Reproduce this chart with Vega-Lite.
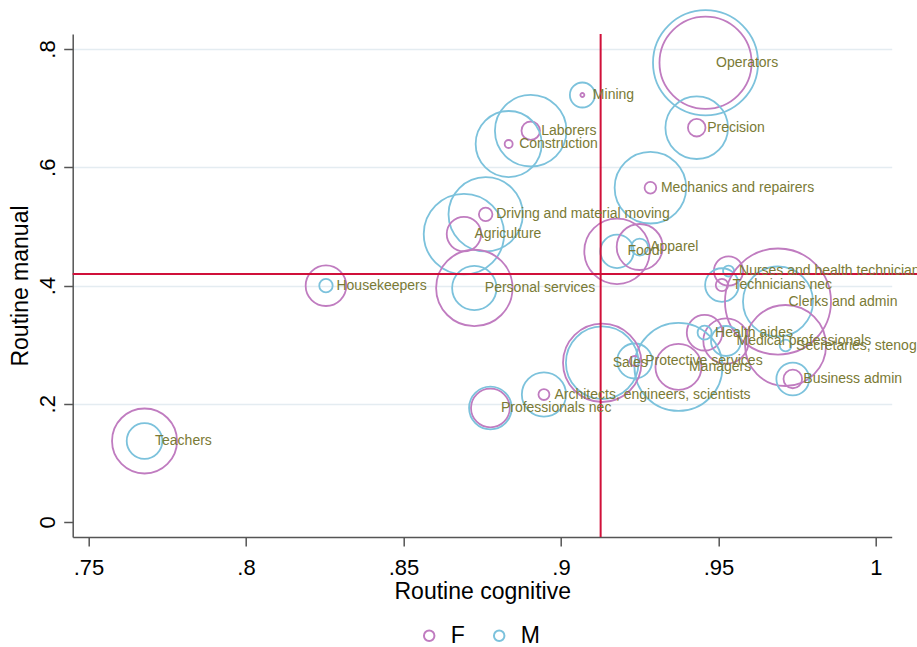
{
  "$schema": "https://vega.github.io/schema/vega-lite/v6.json",
  "width": 819,
  "height": 503,
  "autosize": {"type": "none"},
  "padding": {"left": 72.7, "top": 34, "right": 25.3, "bottom": 110},
  "background": "white",
  "config": {
    "view": {"stroke": null},
    "font": "Liberation Sans",
    "axis": {
      "domainColor": "#555555", "domainWidth": 1.5,
      "tickColor": "#555555", "tickWidth": 1.5, "tickSize": 9,
      "labelFont": "Liberation Sans", "labelFontSize": 22, "labelColor": "#000000",
      "titleFont": "Liberation Sans", "titleFontSize": 23, "titleFontWeight": "normal", "titleColor": "#000000"
    }
  },
  "datasets": {
    "occ": [
      {"occupation": "Operators", "rc": 0.9459, "rm": 0.7768, "F": 212, "M": 276},
      {"occupation": "Mining", "rc": 0.9068, "rm": 0.7222, "F": 0.4, "M": 15.6},
      {"occupation": "Laborers", "rc": 0.8904, "rm": 0.6618, "F": 8.5, "M": 128},
      {"occupation": "Construction", "rc": 0.8834, "rm": 0.6393, "F": 1.6, "M": 109},
      {"occupation": "Precision", "rc": 0.9431, "rm": 0.6669, "F": 7.7, "M": 98},
      {"occupation": "Mechanics and repairers", "rc": 0.9284, "rm": 0.5654, "F": 3.4, "M": 128},
      {"occupation": "Driving and material moving", "rc": 0.8761, "rm": 0.5204, "F": 4.6, "M": 138},
      {"occupation": "Agriculture", "rc": 0.8692, "rm": 0.4869, "F": 29.6, "M": 161.6},
      {"occupation": "Food", "rc": 0.9178, "rm": 0.4578, "F": 107, "M": 27.9},
      {"occupation": "Apparel", "rc": 0.925, "rm": 0.4651, "F": 52.9, "M": 7.2},
      {"occupation": "Housekeepers", "rc": 0.8254, "rm": 0.3997, "F": 41.2, "M": 4.5},
      {"occupation": "Teachers", "rc": 0.7678, "rm": 0.137, "F": 105.6, "M": 31.7},
      {"occupation": "Personal services", "rc": 0.8725, "rm": 0.3958, "F": 146, "M": 49.3},
      {"occupation": "Nurses and health technicians", "rc": 0.9532, "rm": 0.4245, "F": 21.3, "M": 3.0},
      {"occupation": "Technicians nec", "rc": 0.9511, "rm": 0.4008, "F": 3.8, "M": 28.2},
      {"occupation": "Clerks and admin", "rc": 0.9689, "rm": 0.3729, "F": 281, "M": 122.5},
      {"occupation": "Secretaries, stenographers, typists", "rc": 0.9713, "rm": 0.2985, "F": 164, "M": 3.4},
      {"occupation": "Medical professionals", "rc": 0.9524, "rm": 0.3061, "F": 51.5, "M": 22.5},
      {"occupation": "Health aides", "rc": 0.9456, "rm": 0.3202, "F": 31.7, "M": 4.9},
      {"occupation": "Business admin", "rc": 0.9736, "rm": 0.2419, "F": 8.6, "M": 26.9},
      {"occupation": "Managers", "rc": 0.9373, "rm": 0.2622, "F": 52.9, "M": 193.6},
      {"occupation": "Protective services", "rc": 0.9234, "rm": 0.2723, "F": 2.5, "M": 30.6},
      {"occupation": "Sales", "rc": 0.9131, "rm": 0.2693, "F": 153.7, "M": 131.8},
      {"occupation": "Architects, engineers, scientists", "rc": 0.8946, "rm": 0.2156, "F": 3.0, "M": 48.8},
      {"occupation": "Professionals nec", "rc": 0.8776, "rm": 0.1928, "F": 37.6, "M": 45.4}
    ],
    "vline": [{"x": 0.9126, "y1": -0.0254, "y2": 0.8254}],
    "hline": [{"y": 0.4195, "x1": 0.745, "x2": 1.04}]
  },
  "layer": [
    {
      "data": {"name": "occ"},
      "transform": [{"fold": ["F", "M"], "as": ["sex", "emp"]}],
      "mark": {"type": "point", "shape": "circle", "filled": false, "strokeWidth": 1.8, "opacity": 1},
      "encoding": {
        "x": {
          "field": "rc", "type": "quantitative", "title": "Routine cognitive",
          "scale": {"domain": [0.745, 1.005], "nice": false, "zero": false},
          "axis": {"values": [0.75, 0.8, 0.85, 0.9, 0.95, 1], "format": ".2~f", "labelExpr": "replace(datum.label, '0.', '.')", "grid": false, "labelPadding": 11, "titlePadding": 2, "labelFlush": false}
        },
        "y": {
          "field": "rm", "type": "quantitative", "title": "Routine manual",
          "scale": {"domain": [-0.0254, 0.8254], "nice": false, "zero": false},
          "axis": {"values": [0, 0.2, 0.4, 0.6, 0.8], "format": ".1~f", "labelExpr": "replace(datum.label, '0.', '.')",
            "grid": true, "gridColor": "#e4ecf1", "gridWidth": 1.5,
            "gridOpacity": {"condition": {"test": "datum.value === 0", "value": 0}, "value": 1},
            "labelAngle": 270, "labelAlign": "center", "labelBaseline": "alphabetic", "labelPadding": 9, "titlePadding": 4, "labelFlush": false}
        },
        "color": {
          "field": "sex", "type": "nominal",
          "scale": {"domain": ["F", "M"], "range": ["#c07cc0", "#7cc2dc"]},
          "legend": {"title": null, "orient": "none", "direction": "horizontal", "legendX": 345, "legendY": 590,
            "labelFontSize": 23, "labelFont": "Liberation Sans", "labelColor": "#000000", "symbolSize": 110, "symbolStrokeWidth": 2,
            "labelOffset": 10, "columnPadding": 22, "padding": 0, "symbolType": "circle"}
        },
        "size": {"field": "emp", "type": "quantitative", "scale": {"domain": [0, 300], "range": [0, 12000], "zero": true}, "legend": null}
      }
    },
    {
      "data": {"name": "vline"},
      "mark": {"type": "rule", "color": "#d0103a", "strokeWidth": 2, "clip": false},
      "encoding": {
        "x": {"field": "x", "type": "quantitative", "title": "Routine cognitive", "scale": {"domain": [0.745, 1.005], "nice": false, "zero": false}},
        "y": {"field": "y1", "type": "quantitative", "title": "Routine manual", "scale": {"domain": [-0.0254, 0.8254], "nice": false, "zero": false}},
        "y2": {"field": "y2"}
      }
    },
    {
      "data": {"name": "hline"},
      "mark": {"type": "rule", "color": "#d0103a", "strokeWidth": 2, "clip": false},
      "encoding": {
        "x": {"field": "x1", "type": "quantitative", "title": "Routine cognitive", "scale": {"domain": [0.745, 1.005], "nice": false, "zero": false}},
        "x2": {"field": "x2"},
        "y": {"field": "y", "type": "quantitative", "title": "Routine manual", "scale": {"domain": [-0.0254, 0.8254], "nice": false, "zero": false}}
      }
    },
    {
      "data": {"name": "occ"},
      "mark": {"type": "text", "align": "left", "baseline": "middle", "dx": 10.5, "fontSize": 14, "font": "Liberation Sans", "color": "#7a7a35", "clip": false},
      "encoding": {
        "x": {"field": "rc", "type": "quantitative", "title": "Routine cognitive", "scale": {"domain": [0.745, 1.005], "nice": false, "zero": false}},
        "y": {"field": "rm", "type": "quantitative", "title": "Routine manual", "scale": {"domain": [-0.0254, 0.8254], "nice": false, "zero": false}},
        "text": {"field": "occupation", "type": "nominal"}
      }
    }
  ]
}
